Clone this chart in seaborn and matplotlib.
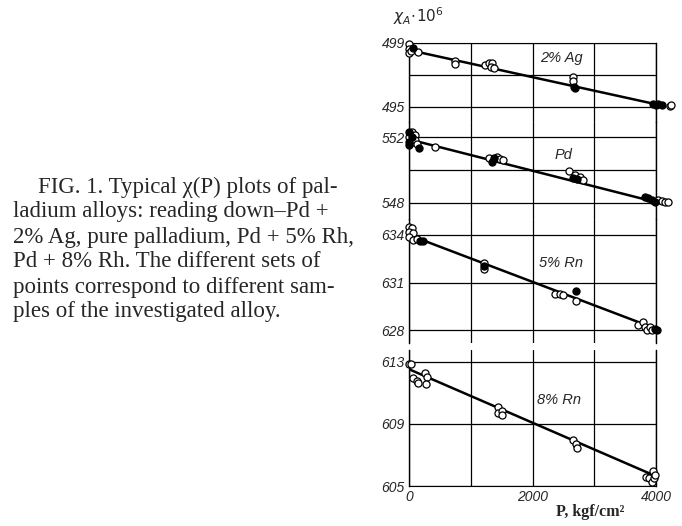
import numpy as np
import pandas as pd
import matplotlib
matplotlib.use("Agg")
import matplotlib.pyplot as plt
import seaborn as sns

# ─────────────────────────────────────────────
# Data (P in kgf/cm^2, chi_A * 1e6)
# ─────────────────────────────────────────────

panel_names = ["2% Ag", "Pd", "5% Rn", "8% Rn"]

ag_p = [5, 5, 5, 70, 40, 150, 745, 745, 1230, 1300, 1350, 1320, 1380,
        2650, 2650, 2680, 2690, 3957, 4000, 4038, 4093, 4227, 4250]
ag_chi = [498.92, 498.60, 498.35, 498.67, 498.50, 498.42, 497.88, 497.69,
          497.63, 497.73, 497.77, 497.52, 497.42,
          496.85, 496.64, 496.23, 496.21, 495.19, 495.13, 495.19, 495.12, 495.05, 495.10]
ag_fill = [0, 0, 0, 1, 0, 0, 0, 0, 0, 0, 0, 0, 0,
           0, 0, 1, 1, 1, 1, 1, 1, 0, 0]

pd_p = [0, 43, 0, 43, 97, 0, 43, 97, 0, 125, 167, 421,
        1300, 1340, 1370, 1420, 1470, 1527,
        2591, 2651, 2688, 2715, 2769, 2813,
        3822, 3876, 3930, 3984, 4038, 4093, 4146, 4200]
pd_chi = [552.32, 552.32, 552.02, 552.02, 552.10, 551.72, 551.72, 551.80, 551.52, 551.60, 551.31, 551.37,
          550.71, 550.50, 550.71, 550.77, 550.66, 550.60,
          549.96, 549.50, 549.70, 549.43, 549.55, 549.39,
          548.34, 548.28, 548.18, 548.08, 548.18, 548.14, 548.08, 548.08]
pd_fill = [1, 0, 0, 1, 0, 1, 0, 0, 1, 0, 1, 0,
           0, 1, 1, 0, 0, 0,
           0, 1, 0, 1, 0, 0,
           1, 1, 1, 1, 0, 0, 0, 0]

rh5_p = [5, 43, 5, 70, 5, 70, 124, 178, 232,
         1220, 1220, 1220,
         2364, 2445, 2489, 2704, 2704,
         3714, 3795, 3822, 3849, 3903, 3930, 3984, 4011]
rh5_chi = [634.53, 634.42, 634.21, 634.11, 633.90, 633.68, 633.72, 633.64, 633.64,
           632.25, 632.04, 631.85,
           630.27, 630.27, 630.21, 630.46, 629.83,
           628.31, 628.52, 628.21, 628.00, 628.17, 628.00, 628.04, 628.00]
rh5_fill = [0, 0, 0, 0, 0, 0, 0, 1, 1,
            0, 1, 0,
            0, 0, 0, 1, 0,
            0, 0, 0, 0, 0, 0, 1, 1]

rh8_p = [0, 27, 70, 124, 151, 259, 286, 275,
         1436, 1436, 1501, 1501,
         2651, 2704, 2715,
         3838, 3892, 3930, 3946, 3968, 3984]
rh8_chi = [612.85, 612.85, 611.95, 611.80, 611.66, 612.31, 612.05, 611.58,
           610.07, 609.69, 609.86, 609.58,
           607.97, 607.71, 607.43,
           605.60, 605.49, 605.28, 605.97, 605.49, 605.71]
rh8_fill = [0] * len(rh8_p)

# fitted straight lines (value at P = 0 and P = 4000)
fit_p = [0, 4000]
fit_chi = [[498.56, 495.17], [551.86, 548.05], [634.00, 628.08], [612.53, 605.63]]

y_ticks = [[495, 497, 499], [548, 550, 552], [628, 631, 634], [605, 609, 613]]
y_ticklabels = [["495", "", "499"], ["548", "", "552"], ["628", "631", "634"], ["605", "609", "613"]]
x_ticks = [0, 1000, 2000, 3000, 4000]
x_ticklabels = ["0", "", "2000", "", "4000"]

caption_lines = [
    "FIG. 1. Typical \u03c7(P) plots of pal-",
    "ladium alloys: reading down\u2013Pd +",
    "2% Ag, pure palladium, Pd + 5% Rh,",
    "Pd + 8% Rh. The different sets of",
    "points correspond to different sam-",
    "ples of the investigated alloy.",
]

# ─────────────────────────────────────────────
# Layout (pixel boxes of each panel on a 682x526 canvas)
# ─────────────────────────────────────────────

W, H = 682, 526
x_left, x_right = 409, 656
panel_px = [(43, 122), (122, 219), (219, 343), (350, 486)]
panel_ylim = [(494.06, 499.0), (547.03, 552.91), (627.18, 635.01), (605.0, 613.77)]
label_pos = [(2462, 498.06), (2494, 550.91), (2462, 632.23), (2429, 610.55)]

sns.set_style("white")
plt.rcParams["font.family"] = ["Liberation Sans", "DejaVu Sans"]

fig = plt.figure(figsize=(W / 100, H / 100), dpi=100)

frames = []
for p, c, f, name in zip([ag_p, pd_p, rh5_p, rh8_p],
                         [ag_chi, pd_chi, rh5_chi, rh8_chi],
                         [ag_fill, pd_fill, rh5_fill, rh8_fill], panel_names):
    frames.append(pd.DataFrame({"P": p, "chi": c, "filled": f, "alloy": name}))

axes = []
for i, name in enumerate(panel_names):
    top, bottom = panel_px[i]
    ax = fig.add_axes([x_left / W, 1 - bottom / H, (x_right - x_left) / W, (bottom - top) / H])
    axes.append(ax)
    df = frames[i]

    sns.lineplot(x=fit_p, y=fit_chi[i], color="black", lw=1.8, ax=ax, zorder=2)
    sns.scatterplot(data=df[df["filled"] == 0], x="P", y="chi", ax=ax, s=26,
                    facecolor="white", edgecolor="black", linewidth=0.9,
                    clip_on=False, zorder=3)
    sns.scatterplot(data=df[df["filled"] == 1], x="P", y="chi", ax=ax, s=26,
                    facecolor="black", edgecolor="black", linewidth=0.9,
                    clip_on=False, zorder=4)

    ax.set_xlim(0, 4000)
    ax.set_ylim(*panel_ylim[i])
    ax.set_xticks(x_ticks)
    ax.set_yticks(y_ticks[i])
    ax.set_yticklabels(y_ticklabels[i], fontstyle="italic", fontsize=10)
    ax.grid(True, color="black", lw=0.9)
    ax.set_axisbelow(True)
    ax.tick_params(length=0, pad=3)
    ax.set_xlabel("")
    ax.set_ylabel("")
    for side in ["left", "right"]:
        ax.spines[side].set_color("black")
        ax.spines[side].set_linewidth(1.0)
    ax.spines["top"].set_visible(i == 0)
    ax.spines["bottom"].set_visible(i == 3)
    ax.spines["top"].set_color("black")
    ax.spines["bottom"].set_color("black")
    if i < 3:
        ax.set_xticklabels([])
    else:
        ax.set_xticklabels(x_ticklabels, fontstyle="italic", fontsize=10)
    ax.patch.set_alpha(0)

    lx, ly = label_pos[i]
    ax.text(lx, ly, name, ha="center", va="center", fontsize=10.5, fontstyle="italic")

# axis titles
fig.text(393 / W, 1 - 16 / H, r"$\chi_A\!\cdot\!10^6$", fontsize=11, ha="left", va="center")
fig.text(590 / W, 1 - 512 / H, "P, kgf/cm\u00b2", fontsize=11.5, fontweight="bold",
         family=["Liberation Serif", "DejaVu Serif"], ha="center", va="center")

# caption on the left
for k, line in enumerate(caption_lines):
    x0 = 38 if k == 0 else 13
    fig.text(x0 / W, 1 - (187 + 25 * k) / H, line, fontsize=16.5,
             family=["Liberation Serif", "DejaVu Serif"], ha="left", va="center")

fig.savefig("out.png", dpi=100)
plt.close(fig)
